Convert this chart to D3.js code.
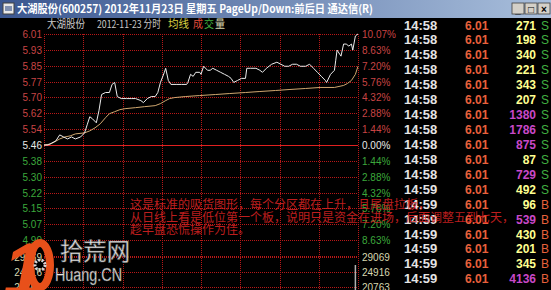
<!DOCTYPE html>
<html>
<head>
<meta charset="utf-8">
<script src="https://cdn.jsdelivr.net/npm/d3@7"></script>
<style>
  html, body { margin: 0; padding: 0; background: #000; overflow: hidden; }
</style>
</head>
<body>
<svg id="chart" width="551" height="290"></svg>
<script>
// ---- data ----
const prevClose = 5.46

const priceMinutes = [0, 3, 6, 9, 12, 15, 18, 21, 24, 28, 31, 33, 35, 37, 40, 42, 44, 47, 50, 52, 54, 56, 59, 63, 67, 70, 74, 76, 79, 82, 85, 87, 89, 92, 93, 95, 97, 101, 105, 109, 110, 112, 114, 116, 119, 120, 122, 125, 127, 129, 132, 135, 138, 141, 143, 145, 148, 151, 154, 155, 158, 162, 165, 167, 170, 172, 174, 178, 181, 184, 187, 190, 193, 196, 200, 203, 206, 209, 212, 215, 216, 219, 222, 223, 224, 226, 227, 229, 231, 233, 235, 236, 238, 240]
const priceValues = [5.46, 5.46, 5.47, 5.48, 5.51, 5.50, 5.49, 5.50, 5.49, 5.50, 5.52, 5.56, 5.60, 5.59, 5.57, 5.63, 5.71, 5.72, 5.72, 5.76, 5.77, 5.70, 5.69, 5.69, 5.69, 5.69, 5.68, 5.67, 5.69, 5.70, 5.70, 5.72, 5.77, 5.82, 5.84, 5.78, 5.76, 5.76, 5.76, 5.76, 5.77, 5.81, 5.80, 5.82, 5.82, 5.81, 5.85, 5.83, 5.83, 5.84, 5.83, 5.82, 5.81, 5.80, 5.79, 5.77, 5.78, 5.79, 5.79, 5.84, 5.84, 5.84, 5.83, 5.82, 5.84, 5.85, 5.86, 5.87, 5.86, 5.85, 5.85, 5.86, 5.86, 5.85, 5.85, 5.86, 5.84, 5.82, 5.80, 5.78, 5.77, 5.81, 5.83, 5.88, 5.93, 5.91, 5.90, 5.96, 5.96, 5.95, 5.96, 5.93, 6.00, 6.01]

const avgMinutes = [0, 5, 8, 12, 16, 20, 24, 31, 35, 39, 43, 47, 50, 54, 58, 62, 70, 77, 85, 89, 93, 96, 100, 108, 119, 131, 142, 154, 165, 177, 188, 200, 211, 222, 229, 232, 235, 238, 240]
const avgValues = [5.460, 5.465, 5.475, 5.490, 5.500, 5.505, 5.515, 5.520, 5.530, 5.545, 5.565, 5.595, 5.615, 5.625, 5.635, 5.640, 5.645, 5.650, 5.655, 5.665, 5.680, 5.690, 5.695, 5.700, 5.705, 5.710, 5.715, 5.720, 5.725, 5.730, 5.735, 5.740, 5.745, 5.745, 5.755, 5.765, 5.780, 5.810, 5.850]

const volumeMinutes = [238]
const volumeValues = [26850]

const pctSteps = [10.07, 8.63, 7.20, 5.76, 4.32, 2.88, 1.44, 0, -1.44, -2.88, -4.32, -5.76, -7.20, -8.63]
const priceLabels = ['6.01', '5.93', '5.85', '5.77', '5.70', '5.62', '5.54', '5.46', '5.38', '5.30', '5.22', '5.15', '5.07', '4.99']
const volumeTicks = [29069, 24916, 20763]

const tradeTimes = ['14:58', '14:58', '14:58', '14:58', '14:58', '14:58', '14:58', '14:58', '14:58', '14:58', '14:58', '14:59', '14:59', '14:59', '14:59', '14:59', '14:59', '14:59']
const tradePrices = ['6.01', '6.01', '6.01', '6.01', '6.01', '6.01', '6.01', '6.01', '6.01', '6.01', '6.01', '6.01', '6.01', '6.01', '6.01', '6.01', '6.01', '6.01']
const tradeVolumes = [271, 198, 340, 221, 343, 207, 1380, 1786, 875, 87, 729, 492, 96, 539, 430, 201, 345, 4136]
const tradeSides = ['S', 'S', 'S', 'S', 'S', 'S', 'S', 'S', 'S', 'S', 'S', 'S', 'B', 'B', 'B', 'B', 'B', 'B']

const titleText = '大湖股份(600257) 2012年11月23日 星期五 PageUp/Down:前后日 通达信(R)'
const noteLines = [
  '这是标准的吸货图形，每个分区都在上升，且尾盘拉板，',
  '从日线上看是低位第一个板，说明只是资金在进场，后面调整五到七天，',
  '趁早盘恐慌操作为佳。'
]

// ---- setup ----
const W = 551
const H = 290
const svg = d3.select('#chart')
const CJK = '"Noto Sans CJK SC", "Liberation Sans", sans-serif'
const LAT = '"Liberation Sans", Arial, sans-serif'
const GRID = '#b81818'

const x = d3.scaleLinear().domain([0, 240]).range([44, 358])
const y = d3.scaleLinear()
  .domain([prevClose * (1 - 0.1007), prevClose * (1 + 0.1007)])
  .range([256, 34])
const yVol = d3.scaleLinear().domain([20763, 29069]).range([287, 257])
const pctY = (p) => Math.round(y(prevClose * (1 + p / 100))) + 0.5

svg.append('rect').attr('width', W).attr('height', H).attr('fill', '#000')

// ---- title bar ----
const grad = svg.append('defs').append('linearGradient').attr('id', 'tb')
grad.append('stop').attr('offset', '0%').attr('stop-color', '#3a5690')
grad.append('stop').attr('offset', '100%').attr('stop-color', '#a9bfdc')
svg.append('rect').attr('width', W).attr('height', 18).attr('fill', 'url(#tb)')

const icon = svg.append('g').attr('transform', 'translate(3,3)')
icon.append('rect').attr('width', 11).attr('height', 11).attr('fill', '#e8e8e8').attr('stroke', '#404040')
icon.append('rect').attr('x', 2).attr('y', 3).attr('width', 7).attr('height', 5).attr('fill', '#8090b0')

svg.append('text')
  .text(titleText)
  .attr('x', 17).attr('y', 13)
  .attr('fill', '#fff')
  .attr('font-family', CJK)
  .attr('font-weight', 'bold')
  .attr('font-size', 11)
  .attr('textLength', 356)
  .attr('lengthAdjust', 'spacingAndGlyphs')

const btnGlyphs = ['_', '□', '×']
svg.append('g').selectAll('g')
  .data(btnGlyphs)
  .join('g')
  .attr('transform', (d, i) => `translate(${512 + i * 13},3)`)
  .each(function (d) {
    const g = d3.select(this)
    g.append('rect').attr('width', 12).attr('height', 11)
      .attr('fill', '#d4d0c8').attr('stroke', '#404040').attr('stroke-width', 0.8)
    g.append('text').text(d)
      .attr('x', 6).attr('y', 9.5)
      .attr('text-anchor', 'middle')
      .attr('font-family', LAT).attr('font-weight', 'bold').attr('font-size', 10)
      .attr('fill', '#000')
  })

// ---- subtitle ----
const subParts = [
  { text: '大湖股份', x: 47, w: 38, color: '#c8c8c8' },
  { text: '2012-11-23 分时', x: 97, w: 64, color: '#c8c8c8' },
  { text: '均线', x: 168, w: 21, color: '#d8d040' },
  { text: '成', x: 193, w: 10, color: '#e04a3a' },
  { text: '交', x: 204, w: 10, color: '#40b040' },
  { text: '量', x: 215, w: 10, color: '#d8d8b0' }
]
svg.append('g').selectAll('text')
  .data(subParts)
  .join('text')
  .text((d) => d.text)
  .attr('x', (d) => d.x).attr('y', 28)
  .attr('textLength', (d) => d.w).attr('lengthAdjust', 'spacingAndGlyphs')
  .attr('font-family', CJK).attr('font-size', 11)
  .attr('fill', (d) => d.color)

// ---- grid ----
const grid = svg.append('g')
grid.selectAll('line.h')
  .data(pctSteps.concat([-10.07]))
  .join('line')
  .attr('x1', x(0)).attr('x2', x(240))
  .attr('y1', (d) => pctY(d)).attr('y2', (d) => pctY(d))
  .attr('stroke', (d) => d === 0 ? '#e02020' : GRID)
  .attr('stroke-dasharray', (d) => d === 0 ? null : '1,1')

grid.selectAll('line.v')
  .data(volumeTicks)
  .join('line')
  .attr('x1', x(0)).attr('x2', x(240))
  .attr('y1', (d) => Math.round(yVol(d)) + 0.5).attr('y2', (d) => Math.round(yVol(d)) + 0.5)
  .attr('stroke', GRID)
  .attr('stroke-dasharray', '1,1')

grid.selectAll('line.t')
  .data(d3.range(0, 241, 30))
  .join('line')
  .attr('x1', (d) => Math.round(x(d)) + 0.5).attr('x2', (d) => Math.round(x(d)) + 0.5)
  .attr('y1', 34).attr('y2', H)
  .attr('stroke', GRID)
  .attr('stroke-dasharray', '1,1')

// ---- volume bars ----
svg.append('g').selectAll('line')
  .data(d3.zip(volumeMinutes, volumeValues))
  .join('line')
  .attr('x1', (d) => x(d[0])).attr('x2', (d) => x(d[0]))
  .attr('y1', (d) => yVol(d[1])).attr('y2', H)
  .attr('stroke', '#b0b0b0')
  .attr('stroke-width', 1.5)

// ---- price & average lines ----
const line = d3.line().x((d) => x(d[0])).y((d) => y(d[1]))
svg.append('path')
  .datum(d3.zip(avgMinutes, avgValues))
  .attr('d', line)
  .attr('fill', 'none')
  .attr('stroke', '#d0a870')
  .attr('stroke-width', 1)
svg.append('path')
  .datum(d3.zip(priceMinutes, priceValues))
  .attr('d', line)
  .attr('fill', 'none')
  .attr('stroke', '#ececec')
  .attr('stroke-width', 1)

// ---- axis labels ----
const labelColor = (p) => p > 0 ? '#c84444' : (p < 0 ? '#3ca83c' : '#e8e8e8')
svg.append('g').selectAll('text')
  .data(d3.zip(pctSteps, priceLabels))
  .join('text')
  .text((d) => d[1])
  .attr('x', 42).attr('y', (d) => pctY(d[0]) + 3.5)
  .attr('text-anchor', 'end')
  .attr('font-family', LAT).attr('font-size', 10)
  .attr('fill', (d) => labelColor(d[0]))

svg.append('g').selectAll('text')
  .data(pctSteps)
  .join('text')
  .text((d) => Math.abs(d).toFixed(2) + '%')
  .attr('x', 362).attr('y', (d) => pctY(d) + 3.5)
  .attr('font-family', LAT).attr('font-size', 10)
  .attr('fill', (d) => labelColor(d))

svg.append('g').selectAll('text')
  .data(volumeTicks.flatMap((v) => [[v, 42, 'end'], [v, 362, 'start']]))
  .join('text')
  .text((d) => d[0])
  .attr('x', (d) => d[1]).attr('y', (d) => yVol(d[0]) + 3.5)
  .attr('text-anchor', (d) => d[2])
  .attr('font-family', LAT).attr('font-size', 10)
  .attr('fill', '#d8d8b0')

// ---- trade list ----
const rowY = (i) => 25 + i * 14.93 + 4.5
const rows = svg.append('g')
  .attr('font-family', LAT).attr('font-weight', 'bold').attr('font-size', 12)
rows.selectAll('text.time').data(tradeTimes).join('text')
  .text((d) => d).attr('x', 404).attr('y', (d, i) => rowY(i))
  .attr('font-size', 13).attr('fill', '#e4e4e4')
rows.selectAll('text.price').data(tradePrices).join('text')
  .text((d) => d).attr('x', 465).attr('y', (d, i) => rowY(i)).attr('fill', '#e8603c')
rows.selectAll('text.vol').data(tradeVolumes).join('text')
  .text((d) => d).attr('x', 536).attr('y', (d, i) => rowY(i))
  .attr('text-anchor', 'end')
  .attr('fill', (d) => d > 500 ? '#c848c8' : '#ffff90')
rows.selectAll('text.side').data(tradeSides).join('text')
  .text((d) => d).attr('x', 541).attr('y', (d, i) => rowY(i))
  .attr('font-weight', 'normal')
  .attr('fill', (d) => d === 'S' ? '#40b040' : '#e8603c')

// ---- watermark logo ----
const logo = svg.append('g')
logo.append('text').text('1')
  .attr('x', 3).attr('y', 296)
  .attr('font-family', LAT).attr('font-weight', 'bold').attr('font-style', 'italic')
  .attr('font-size', 76)
  .attr('fill', '#e8501a')
logo.append('ellipse')
  .attr('cx', 40).attr('cy', 265).attr('rx', 10).attr('ry', 22)
  .attr('fill', 'none').attr('stroke', '#e8501a').attr('stroke-width', 8)
logo.append('circle').attr('cx', 40).attr('cy', 265).attr('r', 5)
  .attr('fill', 'none').attr('stroke', '#d8d8d8').attr('stroke-width', 3)
  .attr('stroke-dasharray', '2,1.5')
logo.append('text').text('拾荒网')
  .attr('x', 60).attr('y', 260)
  .attr('font-family', CJK).attr('font-size', 24)
  .attr('textLength', 70).attr('lengthAdjust', 'spacingAndGlyphs')
  .attr('fill', '#e4e4e4').attr('stroke', '#555').attr('stroke-width', 0.6)
logo.append('text').text('Huang.CN')
  .attr('x', 55).attr('y', 281)
  .attr('font-family', LAT).attr('font-size', 18)
  .attr('textLength', 67).attr('lengthAdjust', 'spacingAndGlyphs')
  .attr('fill', '#e4e4e4').attr('stroke', '#555').attr('stroke-width', 0.4)

// ---- annotation ----
svg.append('g').selectAll('text')
  .data(noteLines)
  .join('text')
  .text((d) => d)
  .attr('x', 130).attr('y', (d, i) => 209 + i * 12.5)
  .attr('font-family', CJK).attr('font-size', 12)
  .attr('fill', '#e02424').attr('fill-opacity', 0.85)
</script>
</body>
</html>
